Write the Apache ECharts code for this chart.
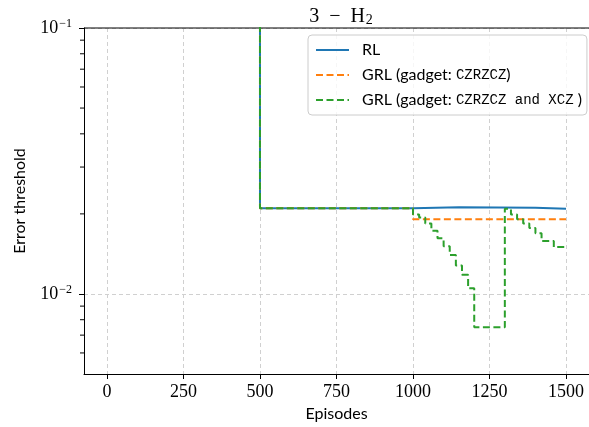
<!DOCTYPE html>
<html>
<head>
<meta charset="utf-8">
<script src="https://cdn.jsdelivr.net/npm/echarts@6/dist/echarts.min.js"></script>
<style>
  html, body { margin: 0; padding: 0; background: #fff; }
  #chart { width: 589px; height: 427px; }
</style>
</head>
<body>
<div id="chart"></div>
<script>
// 数据 (从图上读出来的, 500 之前的值在 0.1 以上被裁掉)
const rlEpisodes = [0, 500, 1000, 1150, 1400, 1500]
const rlValues = [0.5, 0.0210, 0.0212, 0.0211, 0.0209, 0.0209]

const grl1Episodes = [0, 500, 1000, 1500]
const grl1Values = [0.5, 0.0210, 0.0191, 0.0191]

const grl2Episodes = [0, 500, 1000, 1020, 1040, 1060, 1080, 1100, 1120, 1140, 1160, 1180, 1200, 1300, 1320, 1340, 1360, 1380, 1400, 1420, 1460, 1500]
const grl2Values = [0.5, 0.0210, 0.0199, 0.0194, 0.0184, 0.0173, 0.0162, 0.0151, 0.0140, 0.0128, 0.0118, 0.0105, 0.0075, 0.0209, 0.0199, 0.0191, 0.0184, 0.0177, 0.0169, 0.0158, 0.0150, 0.0150]

const seriesNames = ['RL', 'GRL (gadget: CZRZCZ)', 'GRL (gadget: CZRZCZ and XCZ )']
const xTicks = [0, 250, 500, 750, 1000, 1250, 1500]
const yTicks = [0.01, 0.1]
const yMinorTicks = [0.006, 0.007, 0.008, 0.009, 0.02, 0.03, 0.04, 0.05, 0.06, 0.07, 0.08, 0.09]

const xMin = -75
const xMax = 1575

const serif = 'Liberation Serif'
const sans = 'Lato'
const mono = 'Liberation Mono'

const pairs = (xs, ys) => xs.map((x, i) => [x, ys[i]])

const supLabel = (v) => {
  const e = Math.round(Math.log10(v))
  return '10{sup|' + (e < 0 ? '\u2212' + (-e) : e) + '}'
}

const lineSeries = (name, xs, ys, color, dashed) => ({
  name: name,
  type: 'line',
  step: 'end',
  symbol: 'none',
  clip: true,
  data: pairs(xs, ys),
  lineStyle: { color: color, width: 2, type: dashed ? [7, 3.5] : 'solid' },
  itemStyle: { color: color },
  emphasis: { disabled: true },
  animation: false
})

const chart = echarts.init(document.getElementById('chart'))
chart.setOption({
  animation: false,
  title: {
    text: '3\u2002\u2212\u2002H{sub|2}',
    left: 336,
    top: 1,
    textAlign: 'center',
    textStyle: {
      fontFamily: serif,
      fontSize: 20,
      fontWeight: 'normal',
      color: '#000',
      lineHeight: 21,
      rich: {
        sub: { fontFamily: serif, fontSize: 14, lineHeight: 14, verticalAlign: 'bottom', padding: [9, 0, 0, 1] }
      }
    }
  },
  grid: { left: 84, right: -2, top: 28, bottom: 51, containLabel: false },
  legend: {
    data: seriesNames,
    orient: 'vertical',
    left: 308,
    top: 35,
    itemWidth: 33,
    itemHeight: 14,
    itemGap: 9,
    padding: [7, 5, 7, 7],
    borderColor: '#cccccc',
    borderWidth: 1,
    borderRadius: 4,
    backgroundColor: 'rgba(255,255,255,0.8)',
    itemStyle: { opacity: 0 },
    formatter: (name) => name.replace('CZRZCZ and XCZ', '{tt|CZRZCZ and XCZ}').replace(/^(GRL \(gadget: )CZRZCZ\)/, '$1{tt|CZRZCZ})'),
    textStyle: {
      fontFamily: sans,
      fontSize: 16,
      color: '#000',
      padding: [0, 0, 0, 8],
      rich: {
        tt: { fontFamily: mono, fontSize: 14, color: '#000' }
      }
    }
  },
  xAxis: {
    type: 'value',
    min: xMin,
    max: xMax,
    name: 'Episodes',
    nameLocation: 'middle',
    nameGap: 32,
    nameTextStyle: { fontFamily: sans, fontSize: 16, color: '#000' },
    axisLine: { show: true, onZero: false, lineStyle: { color: '#000', width: 1 } },
    axisTick: { show: true, length: 5, inside: false, customValues: xTicks, lineStyle: { color: '#000', width: 1 } },
    axisLabel: { customValues: xTicks, margin: 9, formatter: (v) => String(v), fontFamily: serif, fontSize: 18, color: '#000' },
    splitLine: { show: true, customValues: xTicks, lineStyle: { color: '#d0d0d0', width: 1, type: [4, 3] } }
  },
  yAxis: {
    type: 'log',
    logBase: 10,
    min: 0.005,
    max: 0.1,
    name: 'Error threshold',
    nameLocation: 'middle',
    nameGap: 56,
    nameTextStyle: { fontFamily: sans, fontSize: 16, color: '#000' },
    axisLine: { show: true, onZero: false, lineStyle: { color: '#000', width: 1 } },
    axisTick: { show: true, length: 5, customValues: yTicks, lineStyle: { color: '#000', width: 1 } },
    axisLabel: {
      customValues: yTicks,
      margin: 12,
      formatter: (v) => supLabel(v),
      fontFamily: serif,
      fontSize: 18,
      color: '#000',
      lineHeight: 20,
      rich: {
        sup: { fontFamily: serif, fontSize: 12, lineHeight: 12, verticalAlign: 'top', padding: [0, 0, 9, 1] }
      }
    },
    splitLine: { show: true, lineStyle: { color: '#d0d0d0', width: 1, type: [4, 3] } }
  },
  series: [
    lineSeries(seriesNames[0], rlEpisodes, rlValues, '#1f77b4', false),
    lineSeries(seriesNames[1], grl1Episodes, grl1Values, '#ff7f0e', true),
    lineSeries(seriesNames[2], grl2Episodes, grl2Values, '#2ca02c', true),
    {
      // y 轴的小刻度
      name: 'minor',
      type: 'custom',
      silent: true,
      clip: false,
      z: 10,
      data: yMinorTicks.map(v => [xMin, v]),
      renderItem: (params, api) => {
        const p = api.coord([api.value(0), api.value(1)])
        return {
          type: 'line',
          shape: { x1: p[0] - 4, y1: p[1], x2: p[0], y2: p[1] },
          style: { stroke: '#000', lineWidth: 1 }
        }
      }
    },
    {
      // 上边框
      name: 'frame',
      type: 'custom',
      silent: true,
      clip: false,
      data: [[xMin, 0.1]],
      renderItem: (params, api) => {
        const p = api.coord([api.value(0), api.value(1)])
        return {
          type: 'line',
          shape: { x1: p[0], y1: p[1], x2: p[0] + params.coordSys.width, y2: p[1] },
          style: { stroke: '#000', lineWidth: 1 }
        }
      }
    }
  ]
})
</script>
</body>
</html>
